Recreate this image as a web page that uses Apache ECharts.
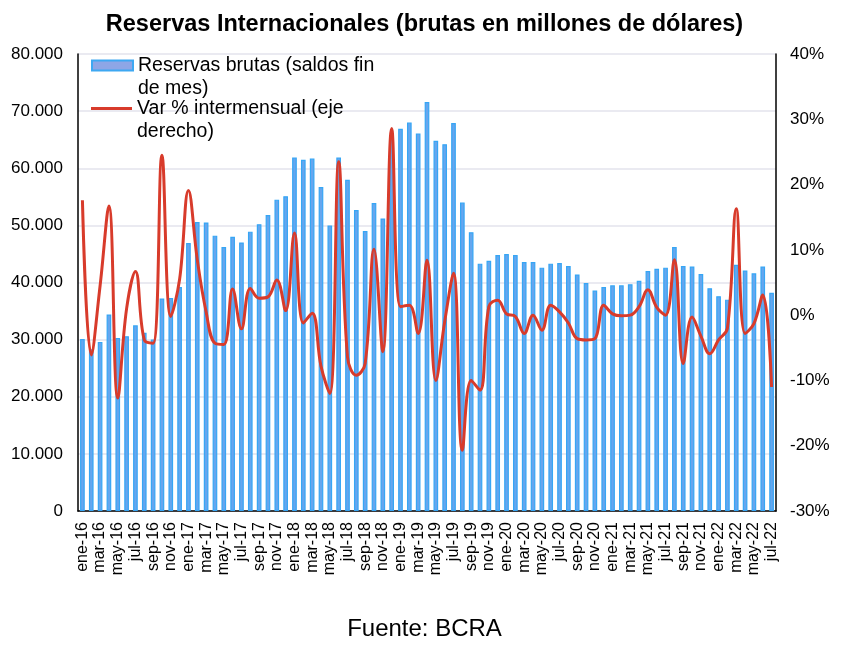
<!DOCTYPE html>
<html lang="es">
    <head>
        <meta charset="UTF-8" />
        <script src="https://cdn.jsdelivr.net/npm/echarts@6/dist/echarts.min.js"></script>
        <title>Reservas Internacionales</title>
        <style>
            html, body { margin: 0; padding: 0; background: #fff; }
            #chart { width: 849px; height: 652px; }
        </style>
    </head>
    <body>
        <div id="chart"></div>
        <script type="text/javascript">
            var months = ["ene", "feb", "mar", "abr", "may", "jun", "jul", "ago", "sep", "oct", "nov", "dic"];
            var years = ["16", "17", "18", "19", "20", "21", "22"];
            var lastMonthCount = 7; // 2022 ends in jul

            var categories = [];
            years.forEach(function (y, i) {
                var n = i === years.length - 1 ? lastMonthCount : 12;
                for (var m = 0; m < n; m++) categories.push(months[m] + "-" + y);
            });

            // millones de USD, saldo fin de mes
            var reservas = [
                30100, 28300, 29600, 34400, 30300, 30600, 32500, 31200, 30000, 37200, 37300, 39200,
                46900, 50600, 50500, 48200, 46200, 48000, 47000, 48900, 50200, 51800, 54500, 55100,
                61900, 61500, 61700, 56700, 50000, 61900, 58000, 52700, 49000, 53900, 51200, 65800,
                66900, 68000, 66100, 71600, 64800, 64200, 67900, 54000, 48800, 43300, 43800, 44800,
                45000, 44800, 43600, 43600, 42600, 43300, 43400, 42900, 41400, 39900, 38600, 39200,
                39500, 39500, 39700, 40300, 42000, 42400, 42600, 46200, 42900, 42800, 41500, 39000,
                37600, 37000, 43100, 42100, 41600, 42800, 38200
            ];

            // variacion % intermensual (eje derecho)
            var varMensual = [
                17.6, -6.1, 4.5, 16.7, -12.7, 1.0, 6.7, -3.8, -4.3, 24.5, -0.2, 5.5,
                19.1, 8.5, 0.5, -4.3, -4.5, 4.0, -2.1, 4.1, 2.6, 2.8, 5.4, 0.7,
                12.6, -1.2, 0.3, -7.8, -12.0, 23.5, -6.4, -9.2, -7.4, 10.1, -5.6, 28.6,
                1.3, 1.5, -2.8, 8.4, -10.0, -1.0, 6.4, -20.7, -10.0, -11.5, 1.3, 2.3,
                0.2, -0.2, -2.8, 0.0, -2.3, 1.5, 0.5, -1.2, -3.6, -3.8, -3.6, 1.5,
                0.2, -0.1, 0.0, 1.3, 3.9, 1.2, 0.0, 8.5, -7.4, -0.3, -3.2, -5.9,
                -3.8, -2.0, 16.3, -2.8, -1.3, 3.1, -11.0
            ];

            var barName = "Reservas brutas (saldos fin\nde mes)";
            var lineName = "Var % intermensual (eje\nderecho)";
            var font = "Arial, 'Liberation Sans', sans-serif";

            function miles(v) {
                return String(v).replace(/\B(?=(\d{3})+(?!\d))/g, ".");
            }

            // empty first line so the icon sits beside the first text line
            function legendLabel(name) {
                return "\n" + name;
            }

            var legendText = {
                fontSize: 19.5,
                lineHeight: 23,
                color: "#000",
                fontFamily: font,
            };

            var chart = echarts.init(document.getElementById("chart"));

            var option = {
                animation: false,
                textStyle: { fontFamily: font },
                title: [
                    {
                        text: "Reservas Internacionales (brutas en millones de dólares)",
                        left: "center",
                        top: 8,
                        textStyle: { fontSize: 23.5, fontWeight: "bold", color: "#000", fontFamily: font },
                    },
                    {
                        text: "Fuente: BCRA",
                        left: "center",
                        top: 612,
                        textStyle: { fontSize: 24, fontWeight: "normal", color: "#000", fontFamily: font },
                    },
                ],
                legend: [
                    {
                        data: [{
                            name: barName,
                            icon: "rect",
                            itemStyle: { color: "#8ea6e6", borderColor: "#3ea8f2", borderWidth: 2 },
                        }],
                        formatter: legendLabel,
                        left: 91,
                        top: 31,
                        padding: 0,
                        itemWidth: 41,
                        itemHeight: 10,
                        itemGap: 0,
                        textStyle: legendText,
                    },
                    {
                        data: [{ name: lineName, icon: "rect", itemStyle: { color: "#d83b2b", borderWidth: 0 } }],
                        formatter: legendLabel,
                        left: 91,
                        top: 74,
                        padding: 0,
                        itemWidth: 41,
                        itemHeight: 3,
                        itemGap: 0,
                        textStyle: legendText,
                    },
                ],
                grid: { left: 78, right: 73, top: 54, bottom: 141 },
                xAxis: {
                    type: "category",
                    data: categories,
                    axisLine: { lineStyle: { color: "#000", width: 1.5 } },
                    axisTick: { interval: 1, length: 5, lineStyle: { color: "#000" } },
                    axisLabel: { interval: 1, rotate: 90, fontSize: 16, color: "#000", margin: 11 },
                },
                yAxis: [
                    {
                        type: "value",
                        min: 0,
                        max: 80000,
                        interval: 10000,
                        axisLine: { show: true, lineStyle: { color: "#000", width: 1.5 } },
                        axisTick: { show: false },
                        axisLabel: { fontSize: 17, color: "#000", margin: 15, formatter: miles },
                        splitLine: { lineStyle: { color: "#e3e3ec", width: 1.5 } },
                    },
                    {
                        type: "value",
                        min: -30,
                        max: 40,
                        interval: 10,
                        axisLine: { show: true, lineStyle: { color: "#000", width: 1.5 } },
                        axisTick: { show: false },
                        axisLabel: { fontSize: 17, color: "#000", margin: 14, formatter: "{value}%" },
                        splitLine: { show: false },
                    },
                ],
                series: [
                    {
                        name: barName,
                        type: "bar",
                        data: reservas,
                        barWidth: "53%",
                        itemStyle: { color: "#66a6ee", borderColor: "#36a6f5", borderWidth: 1.2 },
                    },
                    {
                        name: lineName,
                        type: "line",
                        yAxisIndex: 1,
                        data: varMensual,
                        smooth: 0.4,
                        symbol: "none",
                        lineStyle: { color: "#d83b2b", width: 3 },
                        itemStyle: { color: "#d83b2b" },
                    },
                ],
            };

            chart.setOption(option);
        </script>
    </body>
</html>
